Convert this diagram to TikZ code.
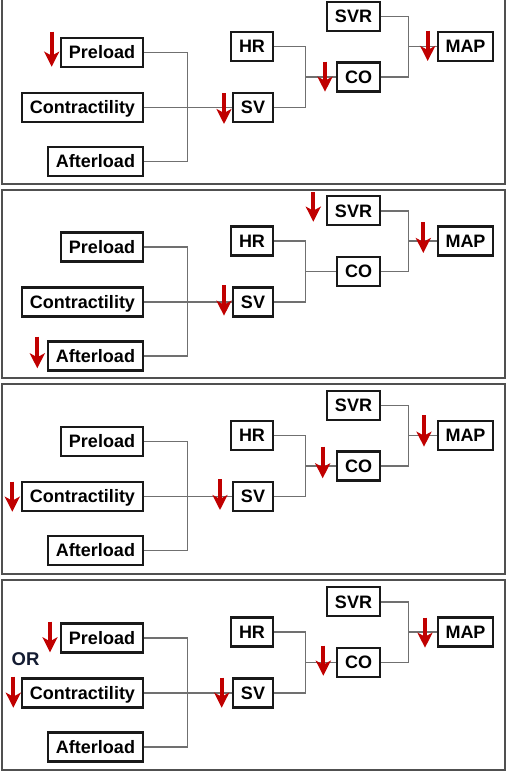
\documentclass[tikz,border=0pt]{standalone}
\usepackage{fontspec}
\setmainfont{Liberation Sans}
\usetikzlibrary{arrows.meta}
\definecolor{dropred}{RGB}{192,0,0}
\definecolor{wiregray}{RGB}{112,112,112}
\definecolor{framegray}{RGB}{80,80,80}
\definecolor{ornavy}{RGB}{20,28,50}
\tikzset{
  var/.style={draw=black!90, line width=2.2pt, minimum height=29pt, inner sep=0pt,
    text height=16.4pt, text depth=3.5pt,
    font=\fontsize{18}{20}\selectfont\bfseries},
  wire/.style={draw=wiregray, line width=1.4pt},
  panelframe/.style={draw=framegray, line width=2pt},
  drop/.style={draw=dropred, line width=3.8pt, -{Stealth[length=15pt,width=15pt,inset=4pt]}},
}
% One haemodynamics tree: #1 = name suffix, #2 = top offset of the tree
\newcommand\hemotree[2]{%
  \begin{scope}[shift={(0,#2)}]
    \node[var, minimum width=82pt]  (pre#1) at (102,57.5)   {Preload};
    \node[var, minimum width=121pt] (con#1) at (82.5,112.5) {Contractility};
    \node[var, minimum width=95pt]  (aft#1) at (95.5,166.5) {Afterload};
    \node[var, minimum width=42pt]  (hr#1)  at (252,51.5)   {HR};
    \node[var, minimum width=40pt]  (sv#1)  at (253,112.5)  {SV};
    \node[var, minimum width=43pt]  (co#1)  at (358.5,82)   {CO};
    \node[var, minimum width=53pt]  (svr#1) at (353.5,21.3) {SVR};
    \node[var, minimum width=55pt]  (map#1) at (465.5,51.5) {MAP};
    \coordinate (ja#1) at (187.7,112.5);
    \coordinate (jb#1) at (305.7,82);
    \coordinate (jc#1) at (408.3,51.5);
    \draw[wire] (pre#1.east) -| (ja#1) |- (aft#1.east);
    \draw[wire] (con#1.east) -- (sv#1.west);
    \draw[wire] (hr#1.east) -| (jb#1) |- (sv#1.east);
    \draw[wire] (jb#1) -- (co#1.west);
    \draw[wire] (svr#1.east) -| (jc#1) |- (co#1.east);
    \draw[wire] (jc#1) -- (map#1.west);
  \end{scope}}
\begin{document}
\begin{tikzpicture}[x=1pt,y=-1pt]
  \useasboundingbox (0,0) rectangle (506,771);
  \fill[white] (0,0) rectangle (506,771);
  % panel frames
  \draw[panelframe] (2,-5) rectangle (505,184);
  \draw[panelframe] (2,190) rectangle (505,378);
  \draw[panelframe] (2,384) rectangle (505,573.5);
  \draw[panelframe] (2,580) rectangle (505,770);
  % the four trees
  \hemotree{a}{-5}
  \hemotree{b}{189.5}
  \hemotree{c}{384}
  \hemotree{d}{580.5}
  % decreases, first tree
  \draw[drop] (51.7,31.7) -- (51.7,66.7);
  \draw[drop] (224,93) -- (224,124);
  \draw[drop] (325,61.7) -- (325,91.7);
  \draw[drop] (427.7,30.7) -- (427.7,61);
  % second tree
  \draw[drop] (313.3,192) -- (313.3,221.7);
  \draw[drop] (423.3,222) -- (423.3,253);
  \draw[drop] (224,285) -- (224,315.7);
  \draw[drop] (37.3,336.7) -- (37.3,368.3);
  % third tree
  \draw[drop] (12.3,481.7) -- (12.3,511.7);
  \draw[drop] (220,479) -- (220,510);
  \draw[drop] (322.7,446.7) -- (322.7,478.3);
  \draw[drop] (424,415) -- (424,446.7);
  % fourth tree
  \draw[drop] (50,621.7) -- (50,652.3);
  \draw[drop] (13.3,676.7) -- (13.3,707.7);
  \draw[drop] (221.7,677.7) -- (221.7,707.7);
  \draw[drop] (323.3,645.7) -- (323.3,675.7);
  \draw[drop] (425,617.7) -- (425,647.7);
  \node[text=ornavy, font=\fontsize{18.5}{20}\selectfont\bfseries, inner sep=0pt] (ortag) at (25.5,659) {OR};
\end{tikzpicture}
\end{document}
